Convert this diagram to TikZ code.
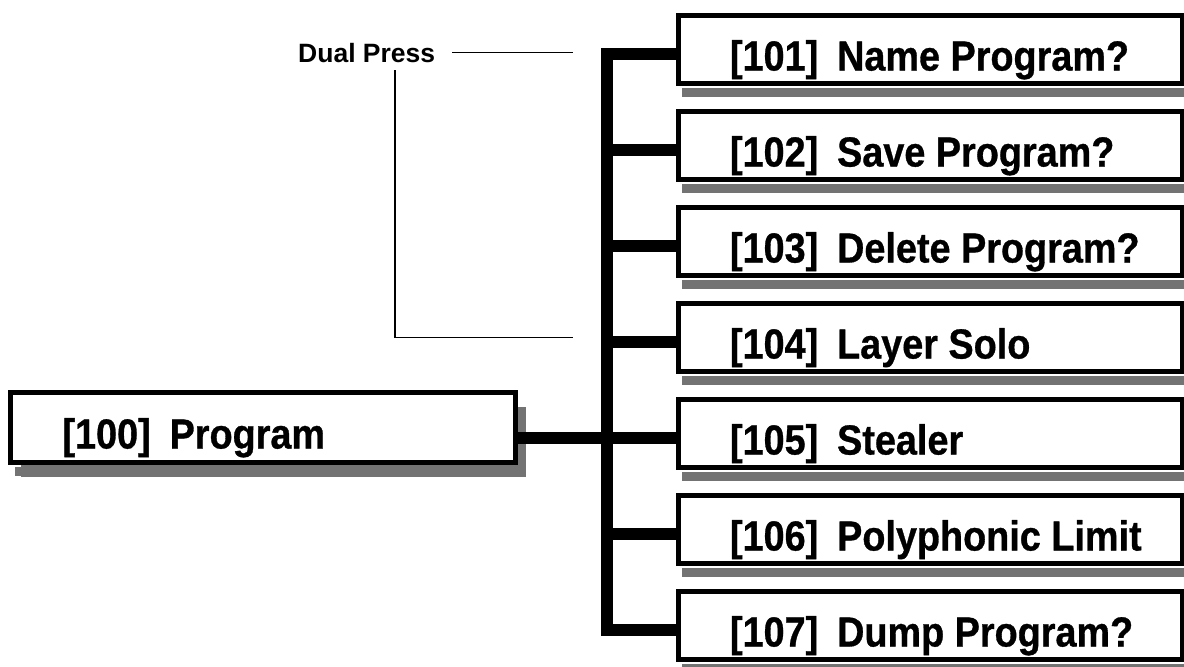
\documentclass[tikz,border=0pt]{standalone}
\usepackage{fontspec}
\usepackage{graphicx}
\setmainfont{Liberation Sans}
\newfontfamily\heavyfont{Liberation Sans}[BoldFeatures={FakeBold=0.8}]
\usetikzlibrary{shadows}
\newcommand{\bxtext}[1]{\scalebox{0.9}[1]{\heavyfont\fontsize{42}{48}\selectfont\bfseries\spaceskip=0pt\xspaceskip=0pt #1}}
\tikzset{
  menubox/.style={draw, line width=5pt, fill=white, anchor=north west, outer sep=0pt,
    minimum height=68pt, inner xsep=52pt, inner ysep=0pt, text width=400pt, align=left,
    text height=48pt, text depth=6pt,
    general shadow={fill=black!55, shadow xshift=4pt, shadow yshift=-13pt},
    preaction={draw=white, line width=9pt}},
  mainbox/.style={menubox, minimum height=70pt, text width=401pt,
    general shadow={fill=black!55, shadow xshift=10pt, shadow yshift=-14pt}},
  trunk/.style={line width=12pt, line join=miter},
  leader/.style={line width=1.8pt},
  dplabel/.style={anchor=base west, inner sep=0pt, font=\fontsize{26.5}{30}\selectfont\bfseries},
}
\begin{document}
\begin{tikzpicture}[x=1pt, y=-1pt]
\useasboundingbox (0,0) rectangle (1184,667);
% boxes
\node[mainbox] (b100) at (10.5,392.5) {\bxtext{[100]\hspace{0.5em}Program}};
\node[menubox] (b101) at (678,15.5)  {\bxtext{[101]\hspace{0.5em}Name Program?}};
\node[menubox] (b102) at (678,111.5) {\bxtext{[102]\hspace{0.5em}Save Program?}};
\node[menubox] (b103) at (678,207.5) {\bxtext{[103]\hspace{0.5em}Delete Program?}};
\node[menubox] (b104) at (678,303.5) {\bxtext{[104]\hspace{0.5em}Layer Solo}};
\node[menubox] (b105) at (678,399.5) {\bxtext{[105]\hspace{0.5em}Stealer}};
\node[menubox] (b106) at (678,495.5) {\bxtext{[106]\hspace{0.5em}Polyphonic Limit}};
\node[menubox] (b107) at (678,591.5) {\bxtext{[107]\hspace{0.5em}Dump Program?}};
% tree connectors
\coordinate (tx) at (607,300);
\foreach \n in {101,...,107} {\coordinate (p\n) at ([yshift=-4pt]b\n.west);}
\draw[trunk] (p101) -| (tx) |- (p107);
\foreach \n in {102,...,106} {\draw[trunk] (p\n -| tx) -- (p\n);}
\draw[trunk] (b100.east |- p105) -- (p105);
% Dual Press
\node[dplabel] (dp) at (298,62) {Dual Press};
\coordinate (dpend) at (573,0);
\coordinate (dpx) at (395,0);
\draw[leader] ([xshift=17pt]dp.east) -- (dp.east -| dpend);
\draw[leader] ([yshift=-8pt]dp.south -| dpx) |- (b104.west -| dpend);
\end{tikzpicture}
\end{document}
